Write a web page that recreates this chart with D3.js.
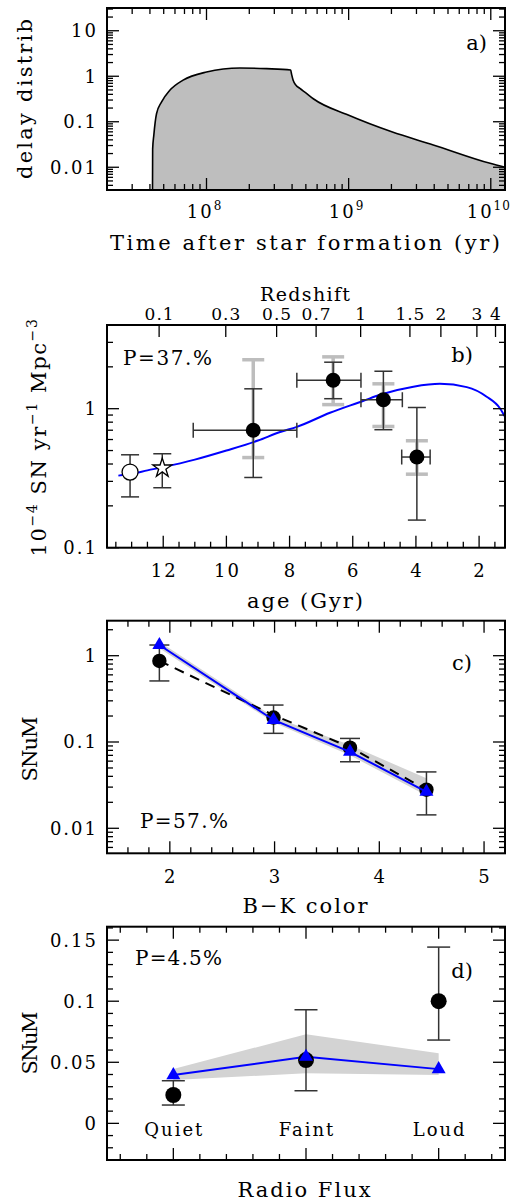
<!DOCTYPE html>
<html><head><meta charset="utf-8">
<script src="https://cdn.jsdelivr.net/npm/d3@7"></script>
<style>
html,body{margin:0;padding:0;background:#fff;}
svg{display:block;}
text{font-family:"DejaVu Serif",serif;fill:#000;}
</style></head><body>
<svg id="chart" width="516" height="1201"></svg>
<script>
// ---------------- DATA ----------------
// Panel a: delay-time distribution
const delayTime  = [4.17e7, 4.18e7, 4.26e7, 4.45e7, 4.82e7, 5.52e7, 6.84e7, 1.0e8, 1.72e8, 2.65e8, 3.91e8, 3.97e8, 4.07e8, 4.25e8, 4.54e8, 5.0e8, 5.64e8, 9.93e8, 2.01e9, 3.94e9, 9.89e9, 1.26e10];
const delayValue = [0.00316, 0.025, 0.051, 0.15, 0.27, 0.49, 0.82, 1.24, 1.52, 1.47, 1.37, 1.10, 0.82, 0.64, 0.54, 0.43, 0.32, 0.14, 0.060, 0.031, 0.0122, 0.0100];
const aXTickVals = [1e8, 1e9, 1e10];
const aXTickExp  = ["8", "9", "10"];
const aYTickVals = [0.01, 0.1, 1, 10];
const aYTickText = ["0.01", "0.1", "1", "10"];

// Panel b: rate vs age
const bAge    = [13.05, 12.03, 9.15, 6.62, 5.03, 3.97];
const bVal    = [0.35, 0.38, 0.70, 1.60, 1.16, 0.449];
const bLo     = [0.232, 0.27, 0.32, 1.18, 0.706, 0.158];
const bHi     = [0.466, 0.474, 1.39, 2.16, 1.86, 1.02];
const bAgeOld = [null, null, 11.05, 7.77, 5.74, 4.45];
const bAgeYng = [null, null, 7.77, 5.74, 4.43, 3.55];
const bSysLo  = [null, null, 0.445, 1.07, 0.745, 0.338];
const bSysHi  = [null, null, 2.25, 2.36, 1.51, 0.588];
const bMarker = ["open", "star", "filled", "filled", "filled", "filled"];
const bCurveAge = [13.42, 13.0, 12.5, 12.0, 11.0, 10.0, 9.0, 8.3, 7.77, 6.72, 5.66, 5.14, 4.08, 3.24, 2.39, 1.76, 1.33, 1.18];
const bCurveVal = [0.33, 0.34, 0.36, 0.38, 0.43, 0.50, 0.59, 0.68, 0.74, 0.935, 1.14, 1.26, 1.44, 1.51, 1.43, 1.22, 1.0, 0.875];
const bXTickVals = [12, 10, 8, 6, 4, 2];
const bYTickVals = [0.1, 1];
const bYTickText = ["0.1", "1"];
const zTickText = ["0.1", "0.3", "0.5", "0.7", "1", "1.5", "2", "3", "4"];
const zTickAge  = [12.13, 10.02, 8.41, 7.16, 5.75, 4.19, 3.21, 2.07, 1.48];

// Panel c: SNuM vs B-K colour
const cColor   = [1.9, 2.99, 3.72, 4.45];
const cVal     = [0.87, 0.192, 0.086, 0.028];
const cLo      = [0.51, 0.126, 0.059, 0.0143];
const cHi      = [1.33, 0.268, 0.110, 0.045];
const cModel   = [1.33, 0.18, 0.077, 0.0265];
const cBandLo  = [1.22, 0.168, 0.070, 0.024];
const cBandHi  = [1.45, 0.196, 0.092, 0.038];
const cDashed  = [0.87, 0.205, 0.087, 0.028];
const cXTickVals = [2, 3, 4, 5];
const cYTickVals = [0.01, 0.1, 1];
const cYTickText = ["0.01", "0.1", "1"];

// Panel d: SNuM vs radio flux
const dCats    = ["Quiet", "Faint", "Loud"];
const dVal     = [0.0232, 0.0518, 0.100];
const dLo      = [0.015, 0.0267, 0.0682];
const dHi      = [0.0349, 0.093, 0.1443];
const dModel   = [0.0395, 0.0545, 0.0444];
const dBandLo  = [0.0354, 0.041, 0.0395];
const dBandHi  = [0.0444, 0.073, 0.0573];
const dYTickVals = [0, 0.05, 0.1, 0.15];
const dYTickText = ["0", "0.05", "0.1", "0.15"];

// ---------------- LAYOUT ----------------
const svg = d3.select("#chart");
svg.append("rect").attr("width", 516).attr("height", 1201).attr("fill", "#fff");
const L = 107, R = 505;
const FA = [8, 190], FB = [325, 547.7], FC = [620.7, 853.3], FD = [926.7, 1160];
const MAJ = 12, MIN = 6;
const TICKFS = 18, LS = 2;
const BLUE = "#0000ff";

const xA = d3.scaleLog().domain([Math.pow(10, 7.3), Math.pow(10, 10.1)]).range([L, R]);
const yA = d3.scaleLog().domain([Math.pow(10, -2.5), Math.pow(10, 1.5)]).range([FA[1], FA[0]]);
const xB = d3.scaleLinear().domain([13.78, 1.18]).range([L, R]);
const yB = d3.scaleLog().domain([0.1, 4]).range([FB[1], FB[0]]);
const xC = d3.scaleLinear().domain([1.4, 5.2]).range([L, R]);
const yC = d3.scaleLog().domain([0.00513, 2.545]).range([FC[1], FC[0]]);
const xD = d3.scaleLinear().domain([0.5, 3.5]).range([L, R]);
const yD = d3.scaleLinear().domain([-0.03, 0.161]).range([FD[1], FD[0]]);

function logTicks(scale) {
  const [d0, d1] = scale.domain().slice().sort((a, b) => a - b);
  const out = [];
  for (let k = Math.floor(Math.log10(d0)); k <= Math.ceil(Math.log10(d1)); k++) {
    for (let m = 1; m <= 9; m++) {
      const v = m * Math.pow(10, k);
      if (v >= d0 * 0.999 && v <= d1 * 1.001) out.push({ v, major: m === 1 });
    }
  }
  return out;
}
function stepTicks(a, b, step, isMajor) {
  const out = [];
  const n = Math.round((b - a) / step);
  for (let i = 0; i <= n; i++) {
    const v = +(a + i * step).toFixed(6);
    out.push({ v, major: isMajor(v) });
  }
  return out;
}
function line(g, x1, y1, x2, y2, color, w) {
  return g.append("line").attr("x1", x1).attr("y1", y1).attr("x2", x2).attr("y2", y2)
    .attr("stroke", color || "#000").attr("stroke-width", w || 1.3);
}
function xTicks(g, ticks, scale, F, top, bottom) {
  ticks.forEach(t => {
    const x = scale(t.v), len = t.major ? MAJ : MIN;
    if (x < L - 0.5 || x > R + 0.5) return;
    if (bottom) line(g, x, F[1], x, F[1] - len);
    if (top) line(g, x, F[0], x, F[0] + len);
  });
}
function yTicks(g, ticks, scale, F) {
  ticks.forEach(t => {
    const y = scale(t.v), len = t.major ? MAJ : MIN;
    if (y < F[0] - 0.5 || y > F[1] + 0.5) return;
    line(g, L, y, L + len, y);
    line(g, R, y, R - len, y);
  });
}
function frame(g, F) {
  g.append("rect").attr("x", L).attr("y", F[0]).attr("width", R - L).attr("height", F[1] - F[0])
    .attr("fill", "none").attr("stroke", "#000").attr("stroke-width", 2);
}
function yLabels(g, vals, texts, scale) {
  vals.forEach((v, i) => {
    g.append("text").attr("x", 96).attr("y", scale(v) + 6.5).attr("dx", LS)
      .attr("text-anchor", "end").attr("font-size", TICKFS).attr("letter-spacing", LS).text(texts[i]);
  });
}
function xLabels(g, vals, texts, scale, baseline, fs, ls) {
  const l = ls == null ? LS : ls;
  vals.forEach((v, i) => {
    g.append("text").attr("x", scale(v)).attr("y", baseline).attr("dx", l / 2)
      .attr("text-anchor", "middle").attr("font-size", fs || TICKFS).attr("letter-spacing", l).text(texts[i]);
  });
}
function title(g, txt, x, y, len, fs, rotate) {
  const t = g.append("text").attr("text-anchor", "middle").attr("font-size", fs || 21)
    .attr("textLength", len).attr("lengthAdjust", "spacing").text(txt);
  if (rotate) t.attr("transform", `translate(${x},${y}) rotate(-90)`);
  else t.attr("x", x).attr("y", y);
  return t;
}
function errV(g, x, y1, y2, cap, color, w) {
  line(g, x, y1, x, y2, color, w);
  line(g, x - cap / 2, y1, x + cap / 2, y1, color, w);
  line(g, x - cap / 2, y2, x + cap / 2, y2, color, w);
}
function errH(g, y, x1, x2, cap, color, w) {
  line(g, x1, y, x2, y, color, w);
  line(g, x1, y - cap / 2, x1, y + cap / 2, color, w);
  line(g, x2, y - cap / 2, x2, y + cap / 2, color, w);
}
const ERR = "#333";

// ---------------- PANEL A ----------------
const gA = svg.append("g");
const aData = delayTime.map((t, i) => ({ t, v: delayValue[i] }));
gA.append("path").datum(aData)
  .attr("d", d3.area().x(d => xA(d.t)).y0(FA[1]).y1(d => yA(d.v)).curve(d3.curveMonotoneX))
  .attr("fill", "#bebebe");
gA.append("path").datum(aData)
  .attr("d", d3.line().x(d => xA(d.t)).y(d => yA(d.v)).curve(d3.curveMonotoneX))
  .attr("fill", "none").attr("stroke", "#000").attr("stroke-width", 1.6);
xTicks(gA, logTicks(xA), xA, FA, true, true);
yTicks(gA, logTicks(yA), yA, FA);
frame(gA, FA);
yLabels(gA, aYTickVals, aYTickText, yA);
aXTickVals.forEach((v, i) => {
  const t = gA.append("text").attr("x", xA(v) - 2).attr("y", 218).attr("text-anchor", "middle")
    .attr("font-size", TICKFS).attr("letter-spacing", 2);
  t.append("tspan").text("10");
  t.append("tspan").attr("dy", -8).attr("font-size", 12).attr("letter-spacing", 1).text(aXTickExp[i]);
});
title(gA, "Time after star formation (yr)", 305, 250, 390, 21);
title(gA, "delay distrib", 32, 99, 160, 21, true);
gA.append("text").attr("x", 487).attr("y", 50).attr("text-anchor", "end").attr("font-size", 21).text("a)");

// ---------------- PANEL B ----------------
const gB = svg.append("g");
const bCurve = bCurveAge.map((a, i) => ({ a, v: bCurveVal[i] }));
bAge.forEach((a, i) => {
  if (bSysLo[i] == null) return;
  errV(gB, xB(a), yB(bSysHi[i]), yB(bSysLo[i]), 22, "#bdbdbd", 3.5);
});
gB.append("path").datum(bCurve)
  .attr("d", d3.line().x(d => xB(d.a)).y(d => yB(d.v)).curve(d3.curveMonotoneX))
  .attr("fill", "none").attr("stroke", BLUE).attr("stroke-width", 2);
bAge.forEach((a, i) => {
  errV(gB, xB(a), yB(bHi[i]), yB(bLo[i]), 18, ERR, 1.5);
  if (bAgeOld[i] != null) errH(gB, yB(bVal[i]), xB(bAgeOld[i]), xB(bAgeYng[i]), 15, ERR, 1.5);
});
bAge.forEach((a, i) => {
  const x = xB(a), y = yB(bVal[i]);
  if (bMarker[i] === "filled") gB.append("circle").attr("cx", x).attr("cy", y).attr("r", 7.5).attr("fill", "#000");
  else if (bMarker[i] === "open") gB.append("circle").attr("cx", x).attr("cy", y).attr("r", 8).attr("fill", "#fff").attr("stroke", "#000").attr("stroke-width", 1.3);
  else gB.append("path").attr("d", d3.symbol().type(d3.symbolStar).size(112)()).attr("transform", `translate(${x},${y + 1})`)
    .attr("fill", "#fff").attr("stroke", "#000").attr("stroke-width", 1.3);
});
xTicks(gB, stepTicks(1.5, 13.5, 0.5, v => v % 2 === 0), xB, FB, false, true);
xTicks(gB, zTickAge.map(v => ({ v, major: true })), xB, FB, true, false);
yTicks(gB, logTicks(yB), yB, FB);
frame(gB, FB);
yLabels(gB, bYTickVals, bYTickText, yB);
xLabels(gB, bXTickVals, bXTickVals.map(String), xB, 577);
xLabels(gB, zTickAge, zTickText, xB, 320, 17, 1);
title(gB, "Redshift", 305, 301, 90, 19);
title(gB, "age (Gyr)", 305, 608, 116, 21);
{
  const t = gB.append("text").attr("transform", "translate(46,437) rotate(-90)").attr("text-anchor", "middle")
    .attr("font-size", 21).attr("letter-spacing", 1.6);
  t.append("tspan").text("10");
  t.append("tspan").attr("dy", -9).attr("font-size", 14).text("\u22124");
  t.append("tspan").attr("dy", 9).text(" SN yr");
  t.append("tspan").attr("dy", -9).attr("font-size", 14).text("\u22121");
  t.append("tspan").attr("dy", 9).text(" Mpc");
  t.append("tspan").attr("dy", -9).attr("font-size", 14).text("\u22123");
}
gB.append("text").attr("x", 473).attr("y", 362).attr("text-anchor", "end").attr("font-size", 21).text("b)");
gB.append("text").attr("x", 123).attr("y", 365).attr("font-size", 20).attr("textLength", 89).attr("lengthAdjust", "spacing").text("P=37.%");

// ---------------- PANEL C ----------------
const gC = svg.append("g");
const cData = cColor.map((c, i) => ({ c, lo: cBandLo[i], hi: cBandHi[i], m: cModel[i], d: cDashed[i] }));
gC.append("path").datum(cData)
  .attr("d", d3.area().x(d => xC(d.c)).y0(d => yC(d.lo)).y1(d => yC(d.hi)))
  .attr("fill", "#d3d3d3");
gC.append("path").datum(cData)
  .attr("d", d3.line().x(d => xC(d.c)).y(d => yC(d.d)))
  .attr("fill", "none").attr("stroke", "#000").attr("stroke-width", 2).attr("stroke-dasharray", "10,7");
cColor.forEach((c, i) => errV(gC, xC(c), yC(cHi[i]), yC(cLo[i]), 20, ERR, 1.5));
cColor.forEach((c, i) => gC.append("circle").attr("cx", xC(c)).attr("cy", yC(cVal[i])).attr("r", 7.2).attr("fill", "#000"));
gC.append("path").datum(cData)
  .attr("d", d3.line().x(d => xC(d.c)).y(d => yC(d.m)))
  .attr("fill", "none").attr("stroke", BLUE).attr("stroke-width", 2);
cColor.forEach((c, i) => gC.append("path").attr("d", d3.symbol().type(d3.symbolTriangle).size(85)())
  .attr("transform", `translate(${xC(c)},${yC(cModel[i])})`).attr("fill", BLUE));
xTicks(gC, stepTicks(1.4, 5.2, 0.2, v => Math.abs(v - Math.round(v)) < 1e-6), xC, FC, true, true);
yTicks(gC, logTicks(yC), yC, FC);
frame(gC, FC);
yLabels(gC, cYTickVals, cYTickText, yC);
xLabels(gC, cXTickVals, cXTickVals.map(String), xC, 883);
title(gC, "B\u2212K color", 305, 913, 125, 21);
title(gC, "SNuM", 37, 749, 65, 21, true);
gC.append("text").attr("x", 472).attr("y", 670).attr("text-anchor", "end").attr("font-size", 21).text("c)");
gC.append("text").attr("x", 140).attr("y", 828).attr("font-size", 20).attr("textLength", 88).attr("lengthAdjust", "spacing").text("P=57.%");

// ---------------- PANEL D ----------------
const gD = svg.append("g");
const dData = dCats.map((c, i) => ({ x: i + 1, lo: dBandLo[i], hi: dBandHi[i], m: dModel[i] }));
gD.append("path").datum(dData)
  .attr("d", d3.area().x(d => xD(d.x)).y0(d => yD(d.lo)).y1(d => yD(d.hi)))
  .attr("fill", "#d3d3d3");
gD.append("path").datum(dData)
  .attr("d", d3.line().x(d => xD(d.x)).y(d => yD(d.m)))
  .attr("fill", "none").attr("stroke", BLUE).attr("stroke-width", 2);
dCats.forEach((c, i) => errV(gD, xD(i + 1), yD(dHi[i]), yD(dLo[i]), 23, ERR, 1.5));
dCats.forEach((c, i) => gD.append("circle").attr("cx", xD(i + 1)).attr("cy", yD(dVal[i])).attr("r", 8).attr("fill", "#000"));
dCats.forEach((c, i) => gD.append("path").attr("d", d3.symbol().type(d3.symbolTriangle).size(85)())
  .attr("transform", `translate(${xD(i + 1)},${yD(dModel[i])})`).attr("fill", BLUE));
xTicks(gD, stepTicks(0.6, 3.4, 0.2, v => Math.abs(v - Math.round(v)) < 1e-6), xD, FD, true, true);
yTicks(gD, stepTicks(-0.03, 0.16, 0.01, v => Math.abs(v / 0.05 - Math.round(v / 0.05)) < 1e-6), yD, FD);
frame(gD, FD);
yLabels(gD, dYTickVals, dYTickText, yD);
dCats.forEach((c, i) => gD.append("text").attr("x", xD(i + 1)).attr("y", 1136).attr("dx", 1)
  .attr("text-anchor", "middle").attr("font-size", 18).attr("letter-spacing", 2).text(c));
title(gD, "Radio Flux", 304, 1197, 133, 21);
title(gD, "SNuM", 37, 1043, 63, 21, true);
gD.append("text").attr("x", 473).attr("y", 978).attr("text-anchor", "end").attr("font-size", 21).text("d)");
gD.append("text").attr("x", 135).attr("y", 965).attr("font-size", 20).attr("textLength", 87).attr("lengthAdjust", "spacing").text("P=4.5%");
</script>
</body></html>
